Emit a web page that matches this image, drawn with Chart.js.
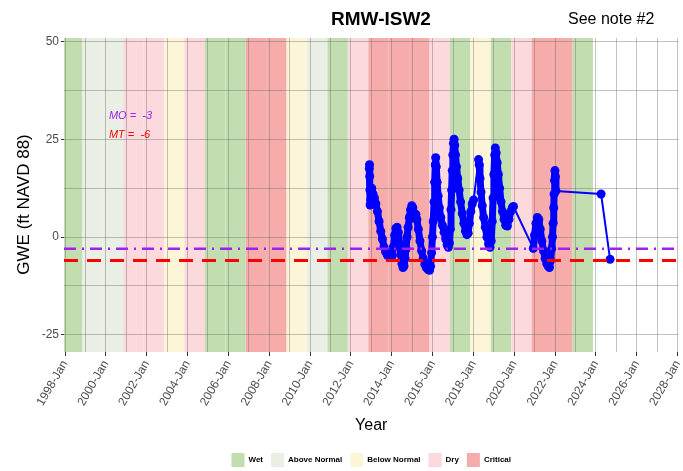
<!DOCTYPE html>
<html>
<head>
<meta charset="utf-8">
<title>RMW-ISW2</title>
<script src="https://cdn.jsdelivr.net/npm/chart.js@4.4.0/dist/chart.umd.min.js"></script>
<style>
  html, body { margin: 0; padding: 0; background: #fff; overflow: hidden; }
  #wrap { width: 683px; height: 471px; }
</style>
</head>
<body>
<div id="wrap"><canvas id="gweChart"></canvas></div>
<script>
// water year types (band for each water year)
const waterYears = [1998, 1999, 2000, 2001, 2002, 2003, 2004, 2005, 2006, 2007, 2008, 2009, 2010,
  2011, 2012, 2013, 2014, 2015, 2016, 2017, 2018, 2019, 2020, 2021, 2022, 2023];
const yearTypes = ['Wet', 'Above Normal', 'Above Normal', 'Dry', 'Dry', 'Below Normal', 'Dry', 'Wet',
  'Wet', 'Critical', 'Critical', 'Below Normal', 'Above Normal', 'Wet', 'Dry', 'Critical', 'Critical',
  'Critical', 'Dry', 'Wet', 'Below Normal', 'Wet', 'Dry', 'Critical', 'Critical', 'Wet'];
const typeNames = ['Wet', 'Above Normal', 'Below Normal', 'Dry', 'Critical'];

// groundwater elevation readings, decimal year / ft NAVD 88
const gweDates = [
  2012.90, 2012.91, 2012.92, 2012.93, 2012.94, 2012.97, 2013.02, 2013.08, 2013.15, 2013.22,
  2013.30, 2013.38, 2013.46, 2013.54, 2013.62, 2013.70, 2013.78, 2013.86, 2013.94, 2014.02,
  2014.08, 2014.14, 2014.20, 2014.26, 2014.32, 2014.38, 2014.44, 2014.50, 2014.55, 2014.60,
  2014.65, 2014.70, 2014.75, 2014.80, 2014.86, 2014.92, 2014.98, 2015.03, 2015.08, 2015.13,
  2015.18, 2015.23, 2015.30, 2015.38, 2015.46, 2015.54, 2015.62, 2015.70, 2015.78, 2015.85,
  2015.90, 2015.95, 2015.99, 2016.03, 2016.07, 2016.10, 2016.13, 2016.15, 2016.18, 2016.22,
  2016.27, 2016.33, 2016.40, 2016.48, 2016.56, 2016.64, 2016.71, 2016.77, 2016.82, 2016.86,
  2016.90, 2016.93, 2016.96, 2016.99, 2017.02, 2017.05, 2017.08, 2017.12, 2017.17, 2017.23,
  2017.30, 2017.37, 2017.45, 2017.53, 2017.61, 2017.68, 2017.74, 2017.80, 2017.87, 2017.94,
  2018.01, 2018.25, 2018.28, 2018.32, 2018.37, 2018.43, 2018.50, 2018.58, 2018.66, 2018.74,
  2018.81, 2018.87, 2018.92, 2018.96, 2019.00, 2019.04, 2019.07, 2019.11, 2019.16, 2019.22,
  2019.28, 2019.35, 2019.42, 2019.50, 2019.58, 2019.66, 2019.74, 2019.82, 2019.90, 2019.96,
  2020.93, 2020.99, 2021.06, 2021.13, 2021.20, 2021.27, 2021.35, 2021.43, 2021.51, 2021.59,
  2021.66, 2021.72, 2021.78, 2021.83, 2021.87, 2021.90, 2021.93, 2021.95, 2021.97, 2021.99,
  2022.01, 2022.04, 2024.25, 2024.69
];
const gweValues = [
  17.5, 18.5, 15.5, 12, 8.2, 9.5, 12.5, 11, 10, 8.5,
  6.5, 4, 1.5, -0.5, -2.5, -3.8, -4.6, -5, -5.2, -4.8,
  -2.5, 0.5, 2.2, 2.5, 1.2, -1.5, -4.5, -6.8, -7.8, -7.4,
  -5.5, -3, 0, 2.5, 5, 7, 8, 7.5, 5.5, 4.8,
  5.8, 4.5, 2, -1, -3.5, -5.5, -7, -7.9, -8.3, -8.5,
  -7.5, -4, 0, 4, 9, 14, 18.5, 20.3, 18, 14,
  10.5, 7.5, 5, 3, 1.2, -0.5, -2, -2.6, -1.5, 2,
  7, 12, 17, 21, 24, 25, 23.5, 21, 18, 15,
  12, 9, 6, 3.5, 1.5, 0.6, 1, 3.5, 6.5, 8.5,
  9.5, 19.8, 18.5, 15, 11.5, 8, 5, 2.5, 0, -1.8,
  -2.6, -1, 4, 10, 16, 21, 22.8, 21.5, 19, 16,
  12.5, 9, 6.5, 4.5, 3, 2.8, 4.5, 6.5, 7.5, 7.8,
  -2.9, 0.5, 3.5, 5, 4.5, 2, -1, -3.5, -5.5, -6.8,
  -7.5, -7.8, -6, -3, 0, 3.5, 7.5, 11, 14.5, 17,
  15.5, 11.8, 11, -5.7
];

// sustainability thresholds
const moValue = -3;   // measurable objective
const mtValue = -6;   // minimum threshold

const xMin = 1997.95, xMax = 2028.04;
const yMin = -29.4, yMax = 50.9;
const bandOffset = 0.85;

const typeColors = {
  'Wet': '#c2deb0',
  'Above Normal': '#e9efe4',
  'Below Normal': '#fdf5d8',
  'Dry': '#fcd9dc',
  'Critical': '#f5acab'
};

const FONT = "'Liberation Sans', Arial, Helvetica, sans-serif";
Chart.defaults.font.family = FONT;

// year type bands go under the grid
const yearTypeBands = {
  id: 'yearTypeBands',
  beforeDraw(chart) {
    const {ctx, chartArea, scales: {x}} = chart;
    ctx.save();
    ctx.beginPath();
    ctx.rect(chartArea.left, chartArea.top, chartArea.width, chartArea.height);
    ctx.clip();
    waterYears.forEach((wy, i) => {
      const x0 = x.getPixelForValue(wy - 1 + bandOffset);
      const x1 = x.getPixelForValue(wy + bandOffset);
      ctx.fillStyle = typeColors[yearTypes[i]];
      ctx.fillRect(x0, chartArea.top, x1 - x0, chartArea.height);
    });
    ctx.restore();
  }
};

// title, note and threshold labels
const chartText = {
  id: 'chartText',
  afterDraw(chart) {
    const {ctx, scales: {x, y}} = chart;
    ctx.save();
    ctx.textBaseline = 'middle';
    ctx.fillStyle = '#000';
    ctx.textAlign = 'center';
    ctx.font = 'bold 19px ' + FONT;
    ctx.fillText('RMW-ISW2', 381, 20);
    ctx.textAlign = 'left';
    ctx.font = '16px ' + FONT;
    ctx.fillText('See note #2', 568, 20);

    ctx.font = 'italic 11px ' + FONT;
    ctx.fillStyle = '#a020f0';
    ctx.fillText('MO =  ' + moValue, x.getPixelForValue(2000.15), y.getPixelForValue(31));
    ctx.fillStyle = '#ff0000';
    ctx.fillText('MT =  ' + mtValue, x.getPixelForValue(2000.15), y.getPixelForValue(26));
    ctx.restore();
  }
};

const gwePoints = gweDates.map((d, i) => ({x: d, y: gweValues[i]}));

new Chart(document.getElementById('gweChart'), {
  type: 'line',
  data: {
    datasets: [
      {
        label: 'GWE',
        data: gwePoints,
        borderColor: '#0000ff',
        backgroundColor: '#0000ff',
        pointRadius: 4.5,
        pointBorderWidth: 0,
        pointHoverRadius: 4.5,
        borderWidth: 7,
        borderJoinStyle: 'round',
        borderCapStyle: 'round',
        segment: {
          borderWidth: ctx => (ctx.p1.parsed.x - ctx.p0.parsed.x > 0.15 ? 2 : 7)
        },
        order: 2
      },
      {
        label: 'MO',
        data: [{x: xMin, y: moValue}, {x: xMax, y: moValue}],
        borderColor: '#a020f0',
        borderWidth: 2.5,
        borderDash: [12, 6, 2, 6],
        pointRadius: 0,
        order: 1
      },
      {
        label: 'MT',
        data: [{x: xMin, y: mtValue}, {x: xMax, y: mtValue}],
        borderColor: '#ff0000',
        borderWidth: 3,
        borderDash: [14, 9],
        pointRadius: 0,
        order: 1
      }
    ]
  },
  options: {
    responsive: true,
    maintainAspectRatio: false,
    animation: false,
    layout: {
      padding: {top: 38, bottom: -6, left: 0, right: 0}
    },
    scales: {
      x: {
        type: 'linear',
        min: xMin,
        max: xMax,
        afterFit: scale => {
          scale.height = 93;
          scale.paddingLeft = 0;
          scale.paddingRight = 0;
        },
        ticks: {
          stepSize: 1,
          includeBounds: false,
          autoSkip: false,
          minRotation: 60,
          maxRotation: 60,
          padding: 2,
          color: '#4d4d4d',
          font: {size: 12},
          callback: v => (v % 2 === 0 ? v + '-Jan' : '')
        },
        grid: {
          color: 'rgba(110,110,110,0.42)',
          lineWidth: 1,
          tickLength: 4,
          tickColor: ctx => (ctx.tick && ctx.tick.value % 2 === 0 ? '#333' : 'rgba(0,0,0,0)')
        },
        border: {display: false},
        title: {
          display: true,
          text: 'Year',
          color: '#000',
          font: {size: 16},
          padding: {top: 2, bottom: 10}
        }
      },
      y: {
        min: yMin,
        max: yMax,
        afterFit: scale => { scale.width = 64; },
        ticks: {
          stepSize: 12.5,
          includeBounds: false,
          padding: 2,
          color: '#4d4d4d',
          font: {size: 12},
          callback: v => (v % 25 === 0 ? v : '')
        },
        grid: {
          color: 'rgba(110,110,110,0.42)',
          lineWidth: 1,
          tickLength: 3,
          tickColor: ctx => (ctx.tick && ctx.tick.value % 25 === 0 ? '#333' : 'rgba(0,0,0,0)')
        },
        border: {display: false},
        title: {
          display: true,
          // trailing spaces nudge the rotated title down a little
          text: 'GWE (ft NAVD 88)    ',
          color: '#000',
          font: {size: 17},
          padding: {top: 14, bottom: 0}
        }
      }
    },
    plugins: {
      title: {display: false},
      tooltip: {enabled: false},
      legend: {
        position: 'bottom',
        fullSize: false,
        onClick: null,
        labels: {
          boxWidth: 13,
          boxHeight: 14,
          padding: 8,
          color: '#222',
          font: {size: 8, weight: 'bold'},
          generateLabels: () => typeNames.map(name => ({
            text: name,
            fillStyle: typeColors[name],
            strokeStyle: 'rgba(0,0,0,0)',
            lineWidth: 0,
            hidden: false
          }))
        }
      }
    }
  },
  plugins: [yearTypeBands, chartText]
});
</script>
</body>
</html>
